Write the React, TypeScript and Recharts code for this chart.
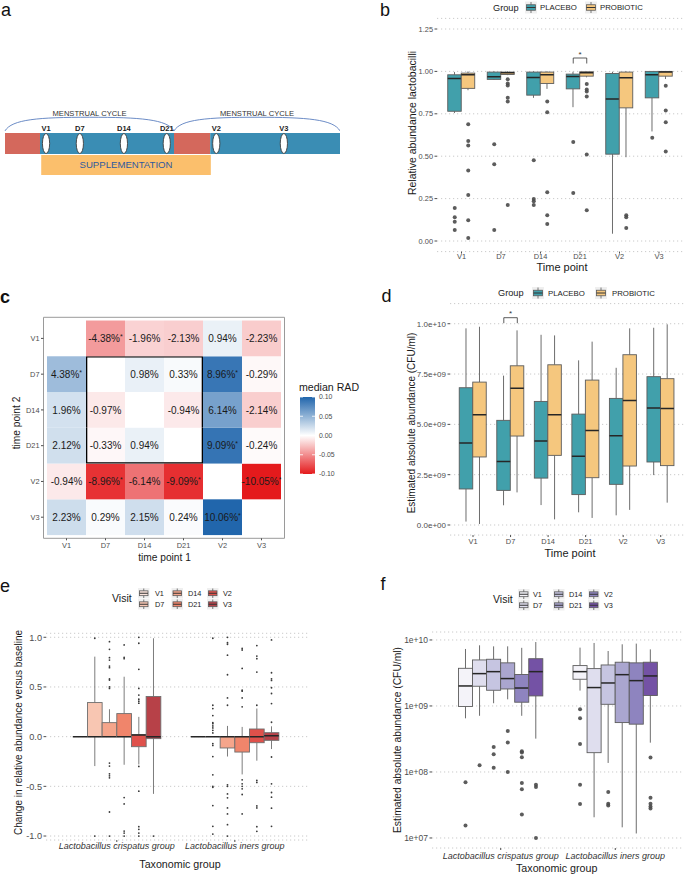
import React from "react";
import {
  ComposedChart,
  Bar,
  Scatter,
  XAxis,
  YAxis,
  CartesianGrid,
  ReferenceArea,
} from "recharts";

const FONT = "'Liberation Sans', Arial, Helvetica, sans-serif";

// shared categories
const TIME_POINTS = ["V1", "D7", "D14", "D21", "V2", "V3"];
const GROUPS = ["PLACEBO", "PROBIOTIC"];
const TAXA = ["Lactobacillus crispatus group", "Lactobacillus iners group"];

// panel a: study timeline (days)
const CYCLES = [[0, 28], [28, 55.5]];
const MENSES = [[0, 5.8], [28, 34]];
const SUPPLEMENTATION = [6, 34.1];
const VISIT_DAYS = [6.8, 12.4, 19.7, 26.8, 35, 46.2];

// panel b: relative abundance lactobacilli [lower whisker, Q1, median, Q3, upper whisker]
const B_PLACEBO = [
  [0.755, 0.765, 0.958, 0.98, 0.996],
  [0.95, 0.953, 0.968, 0.996, 1.0],
  [0.844, 0.86, 0.964, 0.996, 1.0],
  [0.789, 0.897, 0.97, 0.984, 0.998],
  [0.043, 0.512, 0.838, 0.988, 0.998],
  [0.646, 0.844, 0.98, 1.0, 1.0],
];
const B_PROBIOTIC = [
  [0.889, 0.9, 0.98, 0.99, 1.0],
  [0.978, 0.982, 0.992, 0.996, 1.0],
  [0.897, 0.929, 0.98, 0.996, 1.0],
  [0.965, 0.972, 0.992, 0.998, 1.0],
  [0.494, 0.785, 0.962, 0.996, 1.0],
  [0.955, 0.972, 0.996, 1.0, 1.0],
];
const B_PLACEBO_OUT = [
  [0.194, 0.14, 0.113, 0.065],
  [0.571, 0.453, 0.065],
  [0.476, 0.247, 0.235, 0.213],
  [0.583, 0.283],
  [],
  [0.609],
];
const B_PROBIOTIC_OUT = [
  [0.688, 0.59, 0.563, 0.415, 0.271, 0.122, 0.018],
  [0.953, 0.929, 0.917, 0.844, 0.822, 0.213],
  [0.822, 0.759, 0.287, 0.152, 0.1],
  [0.925, 0.893, 0.881, 0.852, 0.51, 0.182],
  [0.152, 0.14, 0.077],
  [0.915, 0.769, 0.7, 0.528],
];
const B_SIG = [{ x: 3, y: 1.079 }];

// panel c: median RAD (%), rows = time point 2 (top to bottom), cols = time point 1
const HEAT_RAD = [
  [null, -4.38, -1.96, -2.13, 0.94, -2.23],
  [4.38, null, 0.98, 0.33, 8.96, -0.29],
  [1.96, -0.97, null, -0.94, 6.14, -2.14],
  [2.12, -0.33, 0.94, null, 9.09, -0.24],
  [-0.94, -8.96, -6.14, -9.09, null, -10.05],
  [2.23, 0.29, 2.15, 0.24, 10.06, null],
];
const HEAT_SIG = [
  [0, 1, 0, 0, 0, 0],
  [1, 0, 0, 0, 1, 0],
  [0, 0, 0, 0, 0, 0],
  [0, 0, 0, 0, 1, 0],
  [0, 1, 0, 1, 0, 1],
  [0, 0, 0, 0, 1, 0],
];
// supplementation block outlined in black (D7..D21 against D7..D21)
const HEAT_BOX = [1, 3];
const HEAT_LEGEND = [0.1, 0.05, 0, -0.05, -0.1];

// panel d: estimated absolute abundance (CFU/ml)
const D_PLACEBO = [
  [0.17e9, 1.79e9, 4.07e9, 6.82e9, 9.77e9],
  [0.98e9, 1.72e9, 3.15e9, 5.2e9, 7.42e9],
  [0.99e9, 2.33e9, 4.17e9, 6.14e9, 9.45e9],
  [0.63e9, 1.51e9, 3.41e9, 5.51e9, 8.18e9],
  [0.48e9, 2.02e9, 4.44e9, 6.29e9, 7.81e9],
  [2.48e9, 3.13e9, 5.81e9, 7.37e9, 9.8e9],
];
const D_PROBIOTIC = [
  [0.05e9, 3.38e9, 5.48e9, 7.1e9, 9.85e9],
  [1.62e9, 4.42e9, 6.8e9, 7.91e9, 9.67e9],
  [0.28e9, 3.46e9, 5.48e9, 7.96e9, 9.42e9],
  [0.35e9, 2.35e9, 4.69e9, 7.2e9, 9.11e9],
  [0.75e9, 2.93e9, 6.18e9, 8.46e9, 9.77e9],
  [1.11e9, 2.95e9, 5.79e9, 7.27e9, 9.97e9],
];
const D_SIG = [{ x: 1, y: 10.3e9 }];

// panel e: change in relative abundance versus baseline, per visit
const E_CRISPATUS = [
  [0, 0, 0, 0, 0],
  [-0.296, 0, 0, 0.343, 0.805],
  [0, 0, 0, 0.141, 0.276],
  [-0.283, 0, 0, 0.232, 0.603],
  [-0.28, -0.101, 0.017, 0.02, 0.199],
  [-0.576, -0.02, 0, 0.404, 0.99],
];
const E_INERS = [
  [0, 0, 0, 0, 0],
  [0, 0, 0, 0, 0],
  [-0.2, -0.114, 0, 0, 0.108],
  [-0.38, -0.155, 0, 0, 0.098],
  [-0.242, -0.061, 0, 0.077, 0.283],
  [-0.125, -0.037, 0.01, 0.04, 0.104],
];
const E_CRISPATUS_OUT = [
  [],
  [0.99, -1.0],
  [0.956, 0.879, 0.795, 0.771, 0.71, 0.694, 0.58, 0.569, 0.5, 0.485, -0.266, -0.296, -0.374, -0.394, -0.414, -0.758, -1.0],
  [0.923, 0.798, 0.785, -0.613, -0.677, -0.95, -0.97, -1.0],
  [1.0, 0.94, 0.677, 0.485, 0.418, 0.377, 0.357, 0.337, -0.3, -0.549, -0.906, -0.933, -0.97, -1.0],
  [-1.0],
];
const E_INERS_OUT = [
  [],
  [0.99, 0.316, 0.283, 0.212, 0.141, 0.131, 0.108, 0.088, 0.064, 0.037, -0.07, -0.088, -0.2, -0.384, -0.5, -0.51, -0.694, -0.902, -0.98],
  [1.0, 0.946, 0.93, 0.82, 0.623, 0.39, 0.316, -0.485, -0.5, -0.576, -0.616, -0.717, -0.778, -0.886, -1.0],
  [0.889, 0.872, 0.687, 0.468, 0.458, 0.39, 0.3, -0.434, -0.475, -0.5, -0.525, -0.582, -0.778],
  [0.916, 0.811, 0.785, 0.65, 0.316, -0.441, -0.461, -0.697, -0.717, -0.906, -0.953],
  [0.973, 0.643, 0.582, 0.566, 0.492, 0.434, 0.333, 0.145, -0.205, -0.475, -0.562, -0.609, -0.72, -0.902],
];

// panel f: estimated absolute abundance per taxonomic group (log scale)
const F_CRISPATUS = [
  [6.5e8, 9.8e8, 2.01e9, 3.72e9, 7.3e9],
  [7.1e8, 1.99e9, 3.09e9, 4.98e9, 8.3e9],
  [1.1e9, 1.73e9, 3.31e9, 5.1e9, 8.0e9],
  [1.26e9, 1.81e9, 2.6e9, 4.5e9, 8.0e9],
  [7.1e8, 1.14e9, 1.87e9, 3.0e9, 7.6e9],
  [3.2e8, 1.42e9, 3.31e9, 5.2e9, 9.3e9],
];
const F_INERS = [
  [1.71e9, 2.54e9, 3.31e9, 4.09e9, 7.65e9],
  [2.06e7, 1.96e8, 1.9e9, 3.68e9, 9.0e9],
  [1.37e8, 1.06e9, 2.23e9, 4.18e9, 6.8e9],
  [1.45e7, 5.6e8, 2.98e9, 4.6e9, 8.6e9],
  [1.17e7, 5.3e8, 2.42e9, 4.5e9, 8.8e9],
  [2.78e8, 1.44e9, 2.85e9, 4.6e9, 7.2e9],
];
const F_CRISPATUS_OUT = [
  [6.97e7, 1.54e7],
  [1.26e8],
  [2.4e8, 1.85e8, 1.16e8],
  [4.18e8, 2.8e8, 1.0e8],
  [2.06e8, 1.98e8, 1.67e8, 6.8e7, 5.46e7, 2.26e7],
  [6.4e7, 5.9e7, 1.0e7],
];
const F_INERS_OUT = [
  [8.9e8, 6.5e8, 2.66e8, 6.4e7, 3.27e7],
  [],
  [4.98e7, 3.3e7, 3.1e7],
  [],
  [],
  [1.65e8, 4.08e7, 3.3e7, 3.0e7, 2.8e7],
];

// colours
const GROUP_COLORS = ["#41a0ab", "#f5c77e"];
const E_COLORS = ["#fbe4dc", "#f8c6b2", "#f5a58b", "#f0856b", "#df514b", "#b74148"];
const F_COLORS = ["#f4f3f9", "#dfdeee", "#c6c5e1", "#aaa6cf", "#8e84bf", "#7452a5"];
const HEAT_HIGH = [33, 102, 172];
const HEAT_LOW = [228, 26, 28];

const heatColor = (pct: number) => {
  const t = Math.max(-1, Math.min(1, pct / 10));
  const end = t >= 0 ? HEAT_HIGH : HEAT_LOW;
  const a = Math.abs(t);
  const c = end.map((e) => Math.round(255 + (e - 255) * a));
  return `rgb(${c[0]},${c[1]},${c[2]})`;
};

const sciFormat = (v: number) => {
  const [m, e] = Number(v).toExponential(1).split("e");
  const sign = e && e[0] === "-" ? "-" : "+";
  return `${m}e${sign}${String(e || "0").replace(/[+-]/, "").padStart(2, "0")}`;
};
const logFormat = (v: number) =>
  `1e+${String(Math.round(Math.log10(v))).padStart(2, "0")}`;

const tickStyle = (size: number, extra: any = {}) => ({
  fontSize: size,
  fill: "#4d4d4d",
  fontFamily: FONT,
  ...extra,
});

// axis titles drawn inside the chart svg
const xTitle = (text: string, x: number, y: number, size = 11) => () => (
  <text x={x} y={y} textAnchor="middle" fontSize={size} fill="#1a1a1a" fontFamily={FONT}>
    {text}
  </text>
);
const yTitle = (text: string, x: number, y: number, size = 10.5) => () => (
  <text
    transform={`translate(${x},${y}) rotate(-90)`}
    textAnchor="middle"
    fontSize={size}
    fill="#1a1a1a"
    fontFamily={FONT}
  >
    {text}
  </text>
);

// boxplot drawn inside a range bar [lower whisker, upper whisker]
const boxShape = (k: number, fill: string, log: boolean, line: string) => (props: any) => {
  const { x, y, width, height, payload } = props;
  const s: number[] | undefined = payload ? payload["s" + k] : undefined;
  if (!s || x == null || y == null || !isFinite(y)) return <g />;
  const f = log ? Math.log10 : (v: number) => v;
  const h = isFinite(height) ? height : 0;
  const top = Math.min(y, y + h);
  const bot = Math.max(y, y + h);
  const span = f(s[4]) - f(s[0]);
  const py = (v: number) => (span === 0 ? bot : bot - ((bot - top) * (f(v) - f(s[0]))) / span);
  const cx = x + width / 2;
  return (
    <g>
      <line x1={cx} x2={cx} y1={py(s[4])} y2={py(s[3])} stroke={line} strokeWidth={0.9} />
      <line x1={cx} x2={cx} y1={py(s[1])} y2={py(s[0])} stroke={line} strokeWidth={0.9} />
      <rect
        x={x}
        y={py(s[3])}
        width={width}
        height={Math.max(0, py(s[1]) - py(s[3]))}
        fill={fill}
        stroke={line}
        strokeWidth={0.9}
      />
      <line x1={x} x2={x + width} y1={py(s[2])} y2={py(s[2])} stroke="#262626" strokeWidth={1.5} />
    </g>
  );
};

const whiskerRange = (k: number) => (r: any) => {
  const s = r ? r["s" + k] : undefined;
  return s ? [s[0], s[4]] : null;
};

const dotShape = (r: number, color: string, op: number) => (p: any) =>
  p.cx == null ? <g /> : <circle cx={p.cx} cy={p.cy} r={r} fill={color} fillOpacity={op} />;

const bracketShape = (hw: number) => (p: any) =>
  p.cx == null ? (
    <g />
  ) : (
    <g>
      <path
        d={`M${p.cx - hw},${p.cy + 5.5} V${p.cy} H${p.cx + hw} V${p.cy + 5.5}`}
        stroke="#333"
        fill="none"
        strokeWidth={0.8}
      />
      <text x={p.cx} y={p.cy - 1.5} textAnchor="middle" fontSize={8} fill="#333" fontFamily={FONT}>
        *
      </text>
    </g>
  );

type BoxChartProps = {
  width: number;
  height: number;
  margin: any;
  cats: string[];
  stats: number[][][]; // [series][category][5]
  outliers: number[][][]; // [series][category][values]
  fills: string[];
  xDomain: number[];
  yDomain: number[];
  yTicks: number[];
  yFormat: (v: number) => string;
  yWidth: number;
  xHeight: number;
  barSize: number;
  spacing: number;
  log?: boolean;
  line: string;
  dotR: number;
  dotColor: string;
  dotOpacity: number;
  xTick: any;
  yTick: any;
  xTickMargin: number;
  sig?: { x: number; y: number }[];
  titles: any[];
};

function BoxChart(p: BoxChartProps) {
  const n = p.stats.length;
  const rows = p.cats.map((c, i) => {
    const r: any = { x: i, cat: c };
    p.stats.forEach((s, k) => (r["s" + k] = s[i]));
    return r;
  });
  const dodge = p.barSize / p.spacing;
  const points = p.outliers.flatMap((series, k) =>
    series.flatMap((vals, i) => (vals || []).map((v) => ({ x: i + (k - (n - 1) / 2) * dodge, y: v })))
  );
  return (
    <ComposedChart
      width={p.width}
      height={p.height}
      data={rows}
      margin={p.margin}
      barSize={p.barSize}
      barGap={0}
    >
      <CartesianGrid vertical={false} stroke="#bcbcbc" strokeDasharray="1.2 2.8" strokeWidth={0.8} />
      <XAxis
        dataKey="x"
        type="number"
        domain={p.xDomain}
        ticks={p.cats.map((_, i) => i)}
        tickFormatter={(i: number) => p.cats[i] ?? ""}
        interval={0}
        allowDataOverflow
        height={p.xHeight}
        axisLine={false}
        tickSize={2}
        tickMargin={p.xTickMargin}
        tickLine={{ stroke: "#4d4d4d" }}
        tick={p.xTick}
        label={p.titles[0]}
      />
      <XAxis xAxisId="pts" dataKey="x" type="number" domain={p.xDomain} allowDataOverflow hide />
      <YAxis
        type="number"
        scale={p.log ? "log" : "linear"}
        domain={p.yDomain}
        ticks={p.yTicks}
        tickFormatter={p.yFormat}
        interval={0}
        allowDataOverflow
        width={p.yWidth}
        axisLine={false}
        tickSize={2.5}
        tickMargin={1.5}
        tickLine={{ stroke: "#4d4d4d" }}
        tick={p.yTick}
        label={p.titles[1]}
      />
      {p.stats.map((_, k) => (
        <Bar
          key={k}
          dataKey={whiskerRange(k)}
          shape={boxShape(k, p.fills[k], !!p.log, p.line)}
          isAnimationActive={false}
        />
      ))}
      <Scatter
        xAxisId="pts"
        data={points}
        dataKey="y"
        shape={dotShape(p.dotR, p.dotColor, p.dotOpacity)}
        isAnimationActive={false}
      />
      {p.sig ? (
        <Scatter
          xAxisId="pts"
          data={p.sig}
          dataKey="y"
          shape={bracketShape(p.barSize / 2)}
          isAnimationActive={false}
        />
      ) : null}
    </ComposedChart>
  );
}

function PanelA() {
  const visits = VISIT_DAYS.map((d, i) => ({ x: d, y: 1.5, name: TIME_POINTS[i] }));
  const follicular = CYCLES.map((c, i) => [MENSES[i][1], c[1]]);
  const arcShape = (p: any) => {
    const { x, y, width: w, height: h } = p;
    if (x == null) return <g />;
    const yb = y + h;
    return (
      <g>
        <path
          d={`M${x},${yb} C${x + w * 0.04},${y + h * 0.15} ${x + w * 0.2},${y} ${x + w / 2},${y} C${x + w * 0.8},${y} ${x + w * 0.96},${y + h * 0.15} ${x + w},${yb}`}
          fill="none"
          stroke="#5b7fc0"
          strokeWidth={0.9}
        />
        <text x={x + w / 2} y={y - 1.5} textAnchor="middle" fontSize={7.6} fill="#333" fontFamily={FONT}>
          MENSTRUAL CYCLE
        </text>
      </g>
    );
  };
  const visitShape = (p: any) =>
    p.cx == null ? (
      <g />
    ) : (
      <g>
        <ellipse cx={p.cx} cy={p.cy} rx={3.6} ry={10} fill="#fff" stroke="#3d3d3d" strokeWidth={0.9} />
        <text x={p.cx} y={p.cy - 12.5} textAnchor="middle" fontSize={7.5} fontWeight="bold" fill="#222" fontFamily={FONT}>
          {p.payload ? p.payload.name : ""}
        </text>
      </g>
    );
  return (
    <ComposedChart width={340} height={100} margin={{ top: 11.5, right: 0, bottom: 15, left: 5 }}>
      <XAxis dataKey="x" type="number" domain={[0, 55.5]} hide allowDataOverflow />
      <YAxis type="number" domain={[0, 3.5]} hide allowDataOverflow />
      {MENSES.map((m, i) => (
        <ReferenceArea key={"m" + i} x1={m[0]} x2={m[1]} y1={1} y2={2} fill="#d4685c" fillOpacity={1} ifOverflow="visible" />
      ))}
      {follicular.map((m, i) => (
        <ReferenceArea key={"f" + i} x1={m[0]} x2={m[1]} y1={1} y2={2} fill="#3a8db4" fillOpacity={1} ifOverflow="visible" />
      ))}
      <ReferenceArea
        x1={SUPPLEMENTATION[0]}
        x2={SUPPLEMENTATION[1]}
        y1={0}
        y2={0.95}
        fill="#fbbf6c"
        fillOpacity={1}
        ifOverflow="visible"
        label={{ value: "SUPPLEMENTATION", position: "center", fill: "#2f5a9e", fontSize: 9.6, fontFamily: FONT }}
      />
      {CYCLES.map((c, i) => (
        <ReferenceArea key={"c" + i} x1={c[0]} x2={c[1]} y1={2.1} y2={2.75} shape={arcShape} ifOverflow="visible" />
      ))}
      <Scatter data={visits} dataKey="y" shape={visitShape} isAnimationActive={false} />
    </ComposedChart>
  );
}

function PanelC() {
  const rows = TIME_POINTS.map((_, j) => {
    const r: any = { x: j + 0.5, col: j };
    TIME_POINTS.forEach((__, k) => (r["r" + k] = 1));
    return r;
  });
  const centers = TIME_POINTS.map((_, i) => i + 0.5);
  const inBox = (i: number) => i >= HEAT_BOX[0] && i <= HEAT_BOX[1];
  const cellShape = (k: number) => (p: any) => {
    const row = TIME_POINTS.length - 1 - k;
    const col = p.payload && p.payload.col != null ? p.payload.col : -1;
    if (col < 0 || p.x == null || !isFinite(p.y)) return <g />;
    const v = HEAT_RAD[row][col];
    const top = Math.min(p.y, p.y + p.height);
    const h = Math.abs(p.height);
    const x0 = p.x;
    const x1 = p.x + p.width;
    const y1 = top + h;
    const lw = 1.3;
    const edges: string[] = [];
    if (inBox(row) && inBox(col)) {
      if (col === HEAT_BOX[0]) edges.push(`M${x0 + lw / 2},${top} V${y1}`);
      if (col === HEAT_BOX[1]) edges.push(`M${x1 - lw / 2},${top} V${y1}`);
      if (row === HEAT_BOX[0]) edges.push(`M${x0},${top + lw / 2} H${x1}`);
      if (row === HEAT_BOX[1]) edges.push(`M${x0},${y1 - lw / 2} H${x1}`);
    }
    return (
      <g>
        {v != null ? <rect x={x0} y={top} width={p.width} height={h} fill={heatColor(v)} /> : null}
        {v != null ? (
          <text
            x={x0 + p.width / 2}
            y={top + h / 2 + 3.6}
            textAnchor="middle"
            fontSize={10}
            fill="#1a1a1a"
            fontFamily={FONT}
          >
            {`${v.toFixed(2)}%`}
            {HEAT_SIG[row][col] ? (
              <tspan fontSize={7} dy={-3}>
                *
              </tspan>
            ) : null}
          </text>
        ) : null}
        {edges.length ? <path d={edges.join(" ")} stroke="#000" strokeWidth={lw} fill="none" /> : null}
      </g>
    );
  };
  return (
    <ComposedChart
      width={340}
      height={300}
      data={rows}
      margin={{ top: 37.3, right: 55.5, bottom: 0, left: 0 }}
      barCategoryGap={0}
      barGap={0}
    >
      <XAxis
        dataKey="x"
        type="number"
        domain={[-0.09, 6.09]}
        ticks={centers}
        tickFormatter={(v: number) => TIME_POINTS[Math.floor(v)] ?? ""}
        interval={0}
        allowDataOverflow
        height={41.7}
        axisLine={false}
        tickSize={2}
        tickMargin={2.5}
        tickLine={{ stroke: "#4d4d4d" }}
        tick={tickStyle(7.4)}
        label={xTitle("time point 1", 164.5, 280.8, 10.2)}
      />
      <YAxis
        type="number"
        domain={[-0.09, 6.09]}
        ticks={centers}
        tickFormatter={(v: number) => TIME_POINTS[TIME_POINTS.length - 1 - Math.floor(v)] ?? ""}
        interval={0}
        allowDataOverflow
        width={43.5}
        axisLine={false}
        tickSize={2.5}
        tickMargin={1.5}
        tickLine={{ stroke: "#4d4d4d" }}
        tick={tickStyle(7.4)}
        label={yTitle("time point 2", 20.3, 143, 10.2)}
      />
      {TIME_POINTS.map((_, k) => (
        <Bar key={k} dataKey={"r" + k} stackId="heat" shape={cellShape(k)} isAnimationActive={false} />
      ))}
      <ReferenceArea x1={-0.09} x2={6.09} y1={-0.09} y2={6.09} fill="none" stroke="#9a9a9a" strokeWidth={1} ifOverflow="visible" />
    </ComposedChart>
  );
}

const keyGlyph = (x: number, y: number, w: number, h: number, fill: string, key: string) => (
  <g key={key}>
    <rect x={x} y={y} width={w} height={h} fill="#efefef" />
    <line x1={x + w / 2} x2={x + w / 2} y1={y + 0.5} y2={y + h - 0.5} stroke="#5c5c5c" strokeWidth={0.8} />
    <rect x={x + 1.5} y={y + h * 0.27} width={w - 3} height={h * 0.46} fill={fill} stroke="#5c5c5c" strokeWidth={0.8} />
    <line x1={x + 1.5} x2={x + w - 1.5} y1={y + h / 2} y2={y + h / 2} stroke="#333" strokeWidth={1} />
  </g>
);

function Overlay() {
  const letter = (t: string, x: number, y: number, bold = false) => (
    <text key={t} x={x} y={y} fontSize={18} fontWeight={bold ? "bold" : "normal"} fill="#111" fontFamily={FONT}>
      {t}
    </text>
  );
  const groupLegend = (y: number, xs: number[]) => (
    <g>
      <text x={xs[0]} y={y + 3.3} fontSize={9.2} fill="#1a1a1a" fontFamily={FONT}>
        Group
      </text>
      {GROUPS.map((g, k) => (
        <g key={g}>
          {keyGlyph(xs[1 + k * 2], y - 6, 12, 12, GROUP_COLORS[k], "k" + g)}
          <text x={xs[2 + k * 2]} y={y + 2.8} fontSize={7.8} fill="#1a1a1a" fontFamily={FONT}>
            {g}
          </text>
        </g>
      ))}
    </g>
  );
  const visitLegend = (x0: number, y0: number, colX: number[], labX: number[], colors: string[]) => (
    <g>
      <text x={x0} y={y0 + 4} fontSize={10.5} fill="#1a1a1a" fontFamily={FONT}>
        Visit
      </text>
      {TIME_POINTS.map((v, k) => {
        const c = Math.floor(k / 2);
        const r = k % 2;
        const ky = y0 - 10 + r * 11;
        return (
          <g key={v}>
            {keyGlyph(colX[c], ky, 11.5, 10.5, colors[k], "v" + v)}
            <text x={labX[c]} y={ky + 8} fontSize={7.3} fill="#1a1a1a" fontFamily={FONT}>
              {v}
            </text>
          </g>
        );
      })}
    </g>
  );
  const barTop = 397;
  const barH = 77;
  return (
    <svg width={684} height={875} style={{ position: "absolute", left: 0, top: 0, pointerEvents: "none" }}>
      <defs>
        <linearGradient id="radGrad" x1="0" y1="0" x2="0" y2="1">
          {[10, 7.5, 5, 2.5, 0, -2.5, -5, -7.5, -10].map((v, i) => (
            <stop key={i} offset={`${(i / 8) * 100}%`} stopColor={heatColor(v)} />
          ))}
        </linearGradient>
      </defs>
      {letter("a", 1, 16)}
      {letter("b", 380, 16)}
      {letter("c", 0, 302.5, true)}
      {letter("d", 381.5, 301.5)}
      {letter("e", 0, 591.5)}
      {letter("f", 380.5, 590)}
      {groupLegend(7.5, [493, 525, 540, 585, 600])}
      {groupLegend(293, [498, 532, 548, 595, 612])}
      {visitLegend(112, 598, [138, 171.5, 207], [155, 188, 223], E_COLORS)}
      {visitLegend(493, 599, [518, 553, 588], [533, 569, 604], F_COLORS)}
      <text x={299} y={390.5} fontSize={10.6} fill="#1a1a1a" fontFamily={FONT}>
        median RAD
      </text>
      <rect x={300} y={barTop} width={15} height={barH} fill="url(#radGrad)" />
      {HEAT_LEGEND.map((v) => {
        const y = barTop + ((0.1 - v) / 0.2) * barH;
        return (
          <g key={v}>
            <line x1={300} x2={303} y1={y} y2={y} stroke="#fff" strokeWidth={0.8} />
            <line x1={312} x2={315} y1={y} y2={y} stroke="#fff" strokeWidth={0.8} />
            <text x={319} y={y + 2.4} fontSize={6.9} fill="#4d4d4d" fontFamily={FONT}>
              {v.toFixed(2)}
            </text>
          </g>
        );
      })}
    </svg>
  );
}

export default function App() {
  const pos = (left: number, top: number): React.CSSProperties => ({ position: "absolute", left, top });
  return (
    <div
      style={{
        position: "absolute",
        left: 0,
        top: 0,
        width: 684,
        height: 875,
        overflow: "hidden",
        background: "#fff",
        fontFamily: FONT,
      }}
    >
      <div style={pos(0, 90)}>
        <PanelA />
      </div>
      <div style={pos(340, 0)}>
        <BoxChart
          width={344}
          height={280}
          margin={{ top: 18.4, right: 0, bottom: 0, left: 0 }}
          cats={TIME_POINTS}
          stats={[B_PLACEBO, B_PROBIOTIC]}
          outliers={[B_PLACEBO_OUT, B_PROBIOTIC_OUT]}
          fills={GROUP_COLORS}
          xDomain={[-0.62, 5.633]}
          yDomain={[-0.0625, 1.3125]}
          yTicks={[0, 0.25, 0.5, 0.75, 1, 1.25]}
          yFormat={(v) => Number(v).toFixed(2)}
          yWidth={97}
          xHeight={28.4}
          barSize={13.5}
          spacing={39.5}
          line="#5c5c5c"
          dotR={2}
          dotColor="#4a4a4a"
          dotOpacity={0.9}
          xTick={tickStyle(7.4)}
          yTick={tickStyle(7.4)}
          xTickMargin={0.5}
          sig={B_SIG}
          titles={[xTitle("Time point", 222, 270.5), yTitle("Relative abundance lactobacilli", 76, 123)]}
        />
      </div>
      <div style={pos(0, 280)}>
        <PanelC />
      </div>
      <div style={pos(340, 280)}>
        <BoxChart
          width={344}
          height={300}
          margin={{ top: 23.6, right: 0, bottom: 0, left: 0 }}
          cats={TIME_POINTS}
          stats={[D_PLACEBO, D_PROBIOTIC]}
          outliers={[[], []]}
          fills={GROUP_COLORS}
          xDomain={[-0.613, 5.62]}
          yDomain={[-0.5e9, 1.1e10]}
          yTicks={[0, 2.5e9, 5e9, 7.5e9, 1e10]}
          yFormat={sciFormat}
          yWidth={110}
          xHeight={44.94}
          barSize={13.5}
          spacing={37.54}
          line="#5c5c5c"
          dotR={2}
          dotColor="#4a4a4a"
          dotOpacity={0.9}
          xTick={tickStyle(7.4)}
          yTick={tickStyle(8)}
          xTickMargin={1.5}
          sig={D_SIG}
          titles={[xTitle("Time point", 230, 277), yTitle("Estimated absolute abundance (CFU/ml)", 74.5, 143, 10)]}
        />
      </div>
      <div style={pos(0, 580)}>
        <BoxChart
          width={340}
          height={295}
          margin={{ top: 53.3, right: 32, bottom: 0, left: 0 }}
          cats={TAXA}
          stats={E_CRISPATUS.map((s, k) => [s, E_INERS[k]])}
          outliers={E_CRISPATUS_OUT.map((s, k) => [s, E_INERS_OUT[k]])}
          fills={E_COLORS}
          xDomain={[-0.6, 1.62]}
          yDomain={[-1.04, 1.04]}
          yTicks={[-1, -0.5, 0, 0.5, 1]}
          yFormat={(v) => Number(v).toFixed(1)}
          yWidth={46}
          xHeight={35}
          barSize={14.67}
          spacing={118}
          line="#6e6e6e"
          dotR={0.9}
          dotColor="#3a3a3a"
          dotOpacity={1}
          xTick={tickStyle(9, { fontStyle: "italic", fill: "#333" })}
          yTick={tickStyle(9.2)}
          xTickMargin={1}
          titles={[xTitle("Taxonomic group", 180, 288, 10.7), yTitle("Change in relative abundance versus baseline", 22, 152.5, 10)]}
        />
      </div>
      <div style={pos(340, 580)}>
        <BoxChart
          width={344}
          height={295}
          margin={{ top: 52, right: 0, bottom: 0, left: 0 }}
          cats={TAXA}
          stats={F_CRISPATUS.map((s, k) => [s, F_INERS[k]])}
          outliers={F_CRISPATUS_OUT.map((s, k) => [s, F_INERS_OUT[k]])}
          fills={F_COLORS}
          xDomain={[-0.6, 1.6]}
          yDomain={[7.05e6, 1.32e10]}
          yTicks={[1e7, 1e8, 1e9, 1e10]}
          yFormat={logFormat}
          yWidth={92}
          xHeight={27}
          barSize={14.06}
          spacing={114.3}
          log
          line="#5c5c5c"
          dotR={2}
          dotColor="#4a4a4a"
          dotOpacity={0.9}
          xTick={tickStyle(9, { fontStyle: "italic", fill: "#333" })}
          yTick={tickStyle(8.5)}
          xTickMargin={2.5}
          titles={[xTitle("Taxonomic group", 216.7, 292, 10.7), yTitle("Estimated absolute abundance (CFU/ml)", 60.5, 160, 10.3)]}
        />
      </div>
      <Overlay />
    </div>
  );
}
